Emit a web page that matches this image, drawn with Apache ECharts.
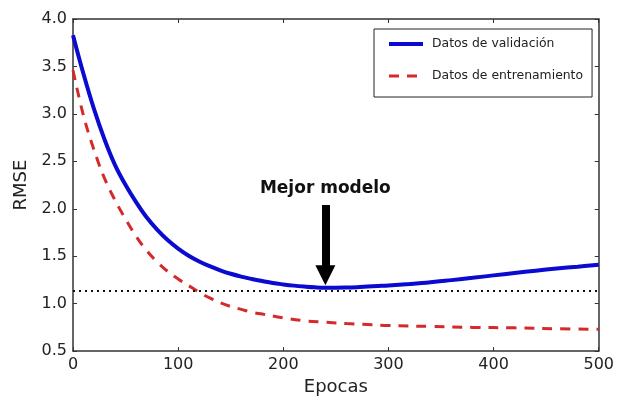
<!DOCTYPE html>
<html>
<head>
<meta charset="utf-8">
<script src="https://cdn.jsdelivr.net/npm/echarts@6/dist/echarts.min.js"></script>
<style>html,body{margin:0;padding:0;background:#fff}#c{width:617px;height:401px}</style>
</head>
<body>
<div id="c"></div>
<script>
const valEpochs = [0,10,20,30,40,50,60,70,80,90,100,110,120,130,140,150,160,170,180,190,200,210,220,230,240,250,260,270,280,290,300,320,340,360,380,400,420,440,460,480,500];
const valRMSE   = [3.83,3.42,3.05,2.73,2.46,2.25,2.07,1.91,1.78,1.67,1.58,1.505,1.445,1.395,1.352,1.315,1.285,1.26,1.238,1.218,1.203,1.19,1.18,1.172,1.168,1.168,1.17,1.174,1.18,1.186,1.192,1.207,1.225,1.248,1.272,1.298,1.323,1.347,1.37,1.39,1.41];
const trainEpochs = [0,10,20,30,40,50,60,70,80,90,100,110,120,130,140,150,160,170,180,200,220,240,260,280,300,340,380,420,460,500];
const trainRMSE   = [3.46,2.98,2.62,2.32,2.09,1.89,1.71,1.56,1.44,1.34,1.26,1.19,1.12,1.06,1.01,0.97,0.94,0.91,0.89,0.85,0.82,0.805,0.79,0.78,0.77,0.76,0.75,0.745,0.735,0.73];
const bestLevel = 1.134;
const bestEpoch = 240;
const arrowFrom = 2.04;
const arrowTo = 1.30;
const labelLevel = 2.21;
const yTicks = {min:0.5, max:4.0, step:0.5};
const xTicks = {min:0, max:500, step:100};
const seriesNames = ['Datos de validación','Datos de entrenamiento'];

const pairs = (xs, ys) => xs.map((x,i)=>[x, ys[i]]);
const FONT = 'DejaVu Sans';
const axisCommon = {
  axisLine:{show:true, onZero:false, lineStyle:{color:'#333', width:1.5}},
  axisTick:{show:true, inside:true, length:4, lineStyle:{color:'#333', width:1}},
  splitLine:{show:false}
};
const chart = echarts.init(document.getElementById('c'), null, {renderer:'canvas'});
chart.setOption({
  animation:false,
  backgroundColor:'#fff',
  grid:{left:73, right:16, top:19, bottom:47},
  legend:{
    data:seriesNames,
    orient:'vertical',
    left:374, top:29,
    itemWidth:34, itemHeight:14, itemGap:20,
    padding:[9,9,15,13],
    borderColor:'#222', borderWidth:1,
    itemStyle:{color:'rgba(0,0,0,0)', borderColor:'rgba(0,0,0,0)', borderWidth:0, opacity:0},
    lineStyle:{width:'inherit'},
    textStyle:{fontFamily:FONT, fontSize:12.4, color:'#222', padding:[0,0,0,4]}
  },
  xAxis:[
    Object.assign({type:'value', min:xTicks.min, max:xTicks.max, interval:xTicks.step,
      name:'Epocas', nameLocation:'middle', nameGap:22,
      nameTextStyle:{fontFamily:FONT, fontSize:18, color:'#222'},
      axisLabel:{fontFamily:FONT, fontSize:16, color:'#222', margin:6}}, axisCommon),
    Object.assign({type:'value', position:'top', min:xTicks.min, max:xTicks.max, interval:xTicks.step,
      axisLabel:{show:false}}, axisCommon)
  ],
  yAxis:[
    Object.assign({type:'value', min:yTicks.min, max:yTicks.max, interval:yTicks.step,
      name:'RMSE', nameLocation:'middle', nameGap:43,
      nameTextStyle:{fontFamily:FONT, fontSize:18, color:'#222'},
      axisLabel:{fontFamily:FONT, fontSize:16, color:'#222', margin:6, formatter:v=>v.toFixed(1)}}, axisCommon),
    Object.assign({type:'value', position:'right', min:yTicks.min, max:yTicks.max, interval:yTicks.step,
      axisLabel:{show:false}}, axisCommon)
  ],
  series:[
    {
      name:seriesNames[1], type:'line', data:pairs(trainEpochs, trainRMSE),
      smooth:0.4, symbol:'none', z:3,
      lineStyle:{color:'#d42a2a', width:3, type:[10,8]},
      itemStyle:{color:'#d42a2a'}
    },
    {
      name:seriesNames[0], type:'line', data:pairs(valEpochs, valRMSE),
      smooth:0.4, symbol:'none', z:4,
      lineStyle:{color:'#0a0ad0', width:4},
      itemStyle:{color:'#0a0ad0'}
    },
    {
      name:'annot', type:'line', data:[], z:5,
      markLine:{
        silent:true, animation:false,
        label:{show:false},
        data:[
          [{coord:[xTicks.min,bestLevel], symbol:'none', lineStyle:{color:'#111', width:2, type:[2,4]}},
           {coord:[xTicks.max,bestLevel], symbol:'none'}],
          [{coord:[bestEpoch,arrowFrom], symbol:'none', lineStyle:{color:'#000', width:8, type:'solid', cap:'butt'}},
           {coord:[bestEpoch,arrowTo], symbol:'triangle', symbolSize:[20,20]}]
        ]
      },
      markPoint:{
        silent:true, symbol:'circle', symbolSize:1, itemStyle:{color:'rgba(0,0,0,0)'},
        label:{show:true, position:'inside', formatter:'Mejor modelo', fontFamily:FONT, fontWeight:'bold', fontSize:17, color:'#111'},
        data:[{coord:[bestEpoch,labelLevel]}]
      }
    }
  ]
});
</script>
</body>
</html>
